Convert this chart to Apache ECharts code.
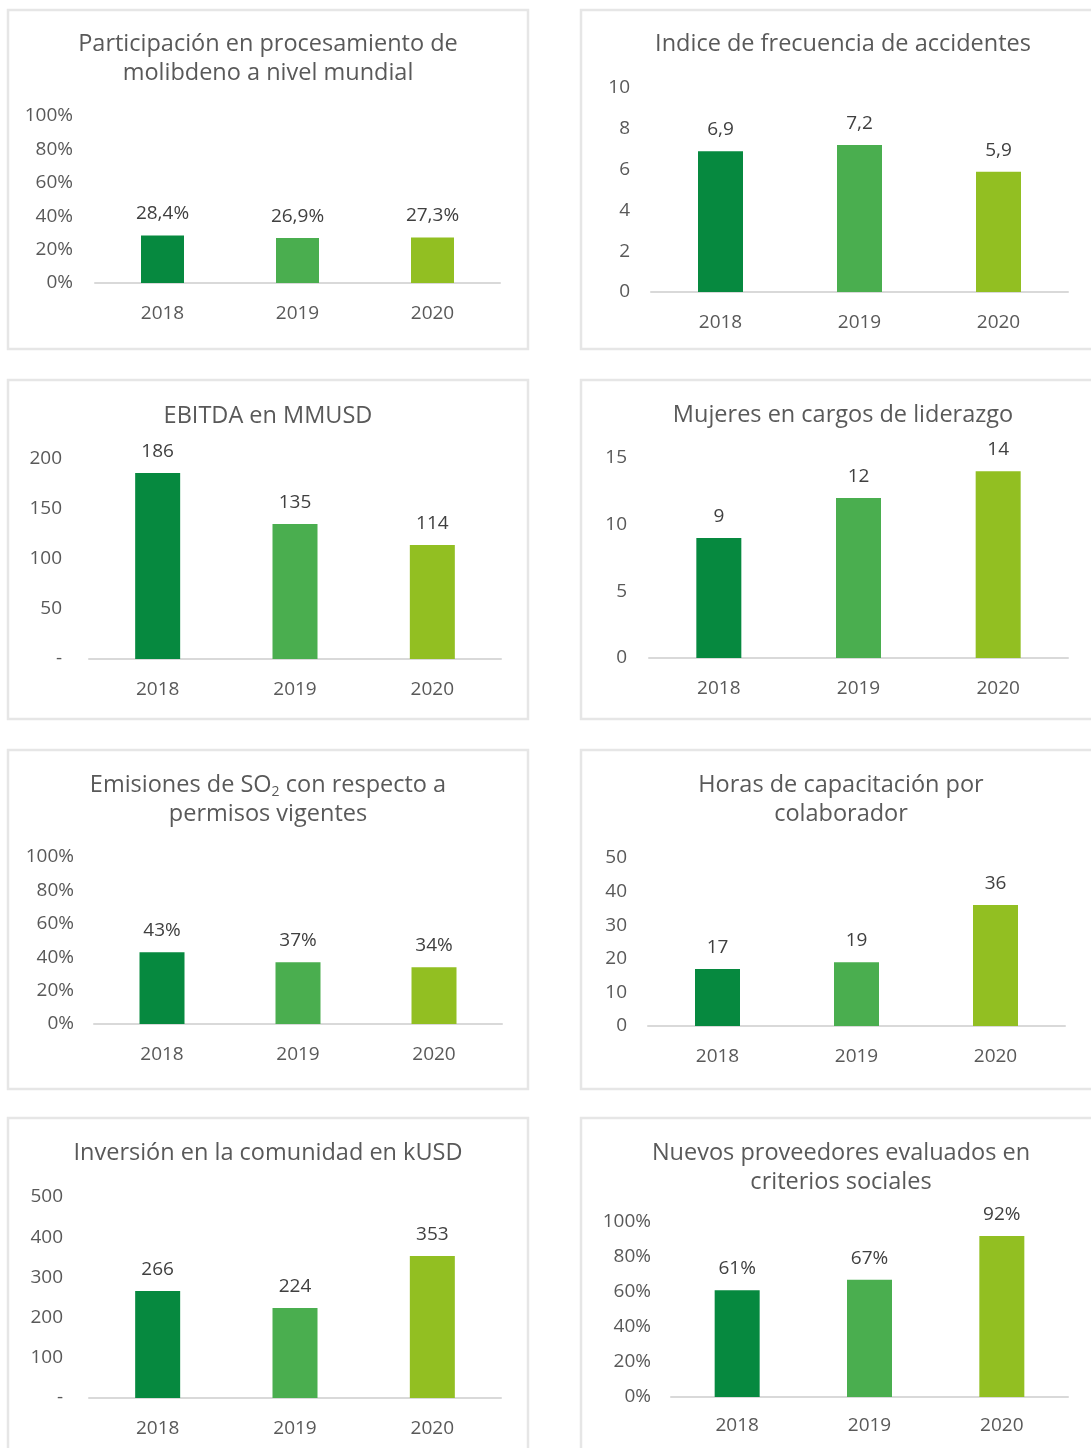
<!DOCTYPE html>
<html>
<head>
<meta charset="utf-8">
<title>Indicadores 2018-2020</title>
<script src="https://cdn.jsdelivr.net/npm/echarts@6/dist/echarts.min.js"></script>
<style>
  html, body { margin: 0; padding: 0; background: #ffffff; }
  #main { width: 1091px; height: 1448px; }
</style>
</head>
<body>
<div id="main"></div>
<script>
// datos
var years = ['2018', '2019', '2020'];
var molibdeno = [0.284, 0.269, 0.273];        // participación mundial
var accidentes = [6.9, 7.2, 5.9];              // índice de frecuencia
var ebitda = [186, 135, 114];                  // MMUSD
var mujeres = [9, 12, 14];                     // cargos de liderazgo
var emisionesSO2 = [0.43, 0.37, 0.34];         // respecto a permisos
var horasCapacitacion = [17, 19, 36];          // por colaborador
var inversionComunidad = [266, 224, 353];      // kUSD
var proveedores = [0.61, 0.67, 0.92];          // criterios sociales
var barColors = ['#06893F', '#4AAE4F', '#92BF22'];

var txtGray = '#595959';
var font = 'Open Sans';

function pct(v) { return Math.round(v * 100) + '%'; }
function pct1(v) { return (v * 100).toFixed(1).replace('.', ',') + '%'; }
function dec1(v) { return v.toFixed(1).replace('.', ','); }
function dash0(v) { return v === 0 ? '-' : String(v); }

// paneles: posiciones en pixeles
var panels = [
  { title: 'Participación en procesamiento de\nmolibdeno a nivel mundial', tx: 268, ty: 42,
    left: 95, top: 116, width: 405, height: 167, max: 1, interval: 0.2, barW: 43, ylm: 22, xlm: 21,
    data: molibdeno, yfmt: pct, lfmt: pct1 },
  { title: 'Indice de frecuencia de accidentes', tx: 843, ty: 42,
    left: 651, top: 88, width: 417, height: 204, max: 10, interval: 2, barW: 45, ylm: 21, xlm: 21,
    data: accidentes, yfmt: String, lfmt: dec1 },
  { title: 'EBITDA en MMUSD', tx: 268, ty: 414,
    left: 89, top: 459, width: 412, height: 200, max: 200, interval: 50, barW: 45, ylm: 27, xlm: 21,
    data: ebitda, yfmt: dash0, lfmt: String },
  { title: 'Mujeres en cargos de liderazgo', tx: 843, ty: 413,
    left: 649, top: 458, width: 419, height: 200, max: 15, interval: 5, barW: 45, ylm: 22, xlm: 21,
    data: mujeres, yfmt: String, lfmt: String },
  { title: 'Emisiones de SO{sub|2} con respecto a\npermisos vigentes', tx: 268, ty: 783,
    left: 94, top: 857, width: 408, height: 167, max: 1, interval: 0.2, barW: 45, ylm: 20, xlm: 21,
    data: emisionesSO2, yfmt: pct, lfmt: pct },
  { title: 'Horas de capacitación por\ncolaborador', tx: 841, ty: 783,
    left: 648, top: 858, width: 417, height: 168, max: 50, interval: 10, barW: 45, ylm: 21, xlm: 21,
    data: horasCapacitacion, yfmt: String, lfmt: String },
  { title: 'Inversión en la comunidad en kUSD', tx: 268, ty: 1151,
    left: 89, top: 1197, width: 412, height: 201, max: 500, interval: 100, barW: 45, ylm: 26, xlm: 21,
    data: inversionComunidad, yfmt: dash0, lfmt: String },
  { title: 'Nuevos proveedores evaluados en\ncriterios sociales', tx: 841, ty: 1151,
    left: 671, top: 1222, width: 397, height: 175, max: 1, interval: 0.2, barW: 45, ylm: 20, xlm: 19,
    data: proveedores, yfmt: pct, lfmt: pct }
];

var rowTops = [10, 380, 750, 1118];

var chart = echarts.init(document.getElementById('main'));

var grids = [], xAxes = [], yAxes = [], series = [], graphics = [];

// marcos grises
rowTops.forEach(function (t) {
  graphics.push({ type: 'rect', shape: { x: 8, y: t, width: 520, height: 339 },
    style: { fill: 'none', stroke: '#e6e6e6', lineWidth: 2.5 }, silent: true });
  graphics.push({ type: 'rect', shape: { x: 581, y: t, width: 540, height: 339 },
    style: { fill: 'none', stroke: '#e6e6e6', lineWidth: 2.5 }, silent: true });
});

panels.forEach(function (p, i) {
  grids.push({ left: p.left, top: p.top, width: p.width, height: p.height });
  xAxes.push({
    gridIndex: i, type: 'category', data: years,
    axisTick: { show: false },
    axisLine: { lineStyle: { color: '#d9d9d9', width: 2 } },
    axisLabel: { color: txtGray, fontFamily: font, fontSize: 19, margin: p.xlm }
  });
  yAxes.push({
    gridIndex: i, type: 'value', min: 0, max: p.max, interval: p.interval,
    axisLine: { show: false }, axisTick: { show: false }, splitLine: { show: false },
    axisLabel: { color: txtGray, fontFamily: font, fontSize: 19, margin: p.ylm,
      padding: [5, 0, 0, 0], formatter: p.yfmt }
  });
  series.push({
    type: 'bar', xAxisIndex: i, yAxisIndex: i, barWidth: p.barW,
    data: p.data.map(function (v, k) { return { value: v, itemStyle: { color: barColors[k] } }; }),
    label: {
      show: true, position: 'top', distance: 12,
      color: '#404040', fontFamily: font, fontSize: 19,
      formatter: (function (f) { return function (d) { return f(d.value); }; })(p.lfmt)
    }
  });
  graphics.push({
    type: 'text', x: p.tx, y: p.ty - 12.5, silent: true,
    style: {
      text: p.title, fill: txtGray, font: '23.5px "' + font + '"', lineHeight: 29,
      textAlign: 'center', textVerticalAlign: 'top',
      rich: { sub: { fontSize: 14, lineHeight: 16, verticalAlign: 'bottom', fill: txtGray, fontFamily: font } }
    }
  });
});

chart.setOption({
  backgroundColor: '#ffffff',
  animation: false,
  grid: grids,
  xAxis: xAxes,
  yAxis: yAxes,
  series: series,
  graphic: graphics
});
</script>
</body>
</html>
